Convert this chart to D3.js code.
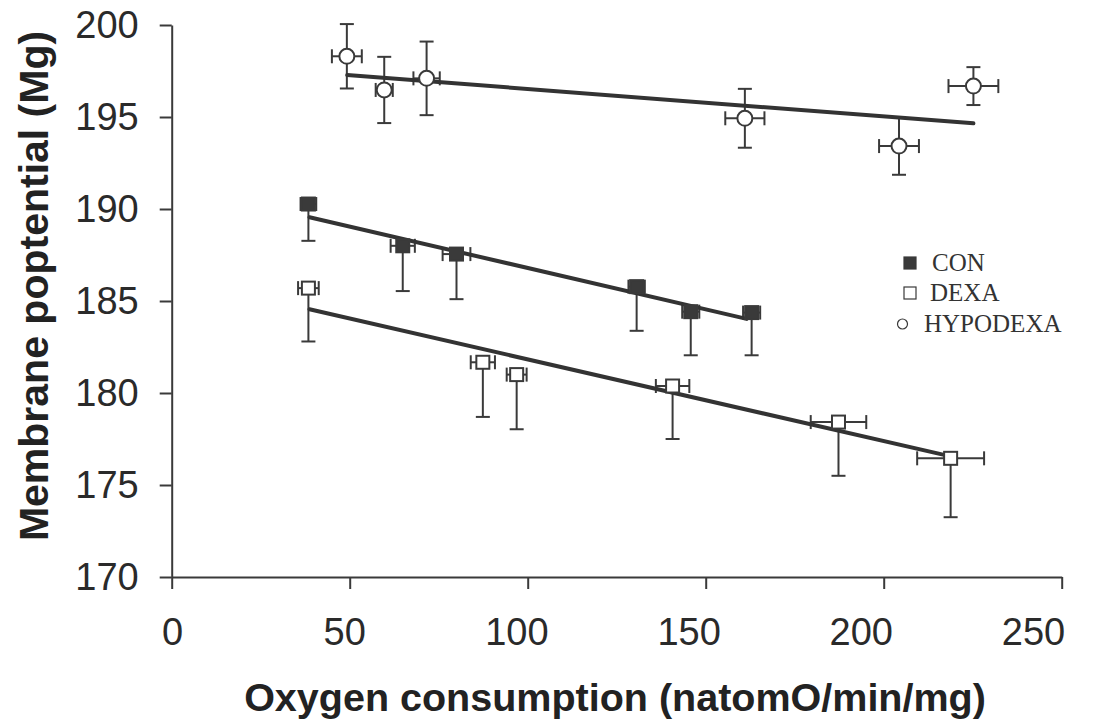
<!DOCTYPE html>
<html>
<head>
<meta charset="utf-8">
<script src="https://cdn.jsdelivr.net/npm/d3@7"></script>
<style>
  body { margin: 0; background: #fff; }
  svg { display: block; }
</style>
</head>
<body>
<div id="chart"></div>
<script>
// values
let xTicks = [0, 50, 100, 150, 200, 250];
let yTicks = [170, 175, 180, 185, 190, 195, 200];

let conX = [38.4, 64.9, 80.0, 130.6, 145.8, 162.9];
let conY = [190.27, 188.0, 187.55, 185.78, 184.42, 184.37];
let conXErr = [2.2, 3.4, 3.9, 2.3, 2.4, 2.4];
let conYErr = [2.0, 2.46, 2.45, 2.4, 2.37, 2.32];
let conTrend = [[38.7, 189.55], [161.5, 184.03]];

let dexaX = [38.4, 87.4, 96.9, 140.7, 187.3, 218.8];
let dexaY = [185.7, 181.67, 181.0, 180.38, 178.42, 176.45];
let dexaXErr = [2.9, 3.4, 2.8, 4.7, 7.8, 9.4];
let dexaYErr = [2.9, 2.97, 2.97, 2.88, 2.92, 3.2];
let dexaTrend = [[38.7, 184.55], [219.1, 176.54]];

let hypoX = [49.2, 59.7, 71.6, 161.0, 204.3, 225.2];
let hypoY = [198.3, 196.47, 197.1, 194.93, 193.42, 196.68];
let hypoXErr = [4.2, 2.4, 3.7, 5.5, 5.6, 7.0];
let hypoYErr = [1.75, 1.8, 2.0, 1.6, 1.56, 1.03];
let hypoTrend = [[49.3, 197.28], [225.2, 194.66]];

let legendNames = ['CON', 'DEXA', 'HYPODEXA'];

const W = 1106, H = 725;
const ink = '#3a3a3a';

var svg = d3.select('#chart')
    .append('svg')
    .attr('width', W)
    .attr('height', H);

let x = d3.scaleLinear().domain([0, 250]).range([171.7, 1061.7]);
let y = d3.scaleLinear().domain([170, 200]).range([577, 25]);
// the tick labels in the source sit slightly off their ticks
let xLabel = d3.scaleLinear().domain([0, 250]).range([172, 1033]);

// axes
let xAxis = svg.append('g')
    .attr('transform', 'translate(0,' + y(170) + ')')
    .call(d3.axisBottom(x).tickValues(xTicks).tickSize(12).tickPadding(29).tickSizeOuter(0));
xAxis.selectAll('text').attr('dx', function (d) { return xLabel(d) - x(d); });

let yAxis = svg.append('g')
    .attr('transform', 'translate(' + x(0) + ',0)')
    .call(d3.axisLeft(y).tickValues(yTicks).tickSize(12).tickPadding(21).tickSizeOuter(0));

svg.selectAll('.domain, .tick line')
    .attr('stroke', ink)
    .attr('stroke-width', 2);
svg.selectAll('.tick text')
    .attr('fill', '#2a2a2a')
    .style('font-family', 'Liberation Sans, Arial, sans-serif')
    .style('font-size', '38px');

// axis titles
svg.append('text')
    .attr('x', 615)
    .attr('y', 711)
    .attr('text-anchor', 'middle')
    .attr('fill', '#222')
    .style('font-family', 'Liberation Sans, Arial, sans-serif')
    .style('font-size', '39.5px')
    .style('font-weight', 'bold')
    .text('Oxygen consumption (natomO/min/mg)');

svg.append('text')
    .attr('transform', 'translate(48,286) rotate(-90)')
    .attr('text-anchor', 'middle')
    .attr('fill', '#222')
    .style('font-family', 'Liberation Sans, Arial, sans-serif')
    .style('font-size', '41px')
    .style('font-weight', 'bold')
    .text('Membrane poptential (Mg)');

function rows(xs, ys, xe, ye) {
    return xs.map(function (v, i) {
        return { x: v, y: ys[i], xe: xe[i], ye: ye[i] };
    });
}

let series = [
    { name: 'CON', shape: 'filled', data: rows(conX, conY, conXErr, conYErr), trend: conTrend, both: false },
    { name: 'DEXA', shape: 'open', data: rows(dexaX, dexaY, dexaXErr, dexaYErr), trend: dexaTrend, both: false },
    { name: 'HYPODEXA', shape: 'circle', data: rows(hypoX, hypoY, hypoXErr, hypoYErr), trend: hypoTrend, both: true }
];

let errLayer = svg.append('g').attr('stroke', ink).attr('stroke-width', 2);
let trendLayer = svg.append('g');
let markLayer = svg.append('g');

const cap = 7;

series.forEach(function (s) {
    s.data.forEach(function (d) {
        let cx = x(d.x), cy = y(d.y);
        let top = s.both ? y(d.y + d.ye) : cy;
        let bot = y(d.y - d.ye);
        // vertical bar
        errLayer.append('line').attr('x1', cx).attr('x2', cx).attr('y1', top).attr('y2', bot);
        errLayer.append('line').attr('x1', cx - cap).attr('x2', cx + cap).attr('y1', bot).attr('y2', bot);
        if (s.both) {
            errLayer.append('line').attr('x1', cx - cap).attr('x2', cx + cap).attr('y1', top).attr('y2', top);
        }
        // horizontal bar
        let l = x(d.x - d.xe), r = x(d.x + d.xe);
        errLayer.append('line').attr('x1', l).attr('x2', r).attr('y1', cy).attr('y2', cy);
        errLayer.append('line').attr('x1', l).attr('x2', l).attr('y1', cy - cap).attr('y2', cy + cap);
        errLayer.append('line').attr('x1', r).attr('x2', r).attr('y1', cy - cap).attr('y2', cy + cap);
    });

    trendLayer.append('line')
        .attr('x1', x(s.trend[0][0])).attr('y1', y(s.trend[0][1]))
        .attr('x2', x(s.trend[1][0])).attr('y2', y(s.trend[1][1]))
        .attr('stroke', '#333')
        .attr('stroke-width', 4)
        .attr('stroke-linecap', 'round');

    drawMarks(markLayer, s.shape, s.data.map(function (d) { return [x(d.x), y(d.y)]; }), 1);
});

function drawMarks(g, shape, pts, scale) {
    pts.forEach(function (p) {
        if (shape == 'circle') {
            g.append('circle')
                .attr('cx', p[0]).attr('cy', p[1])
                .attr('r', 7.5 * scale)
                .attr('fill', '#fff')
                .attr('stroke', ink)
                .attr('stroke-width', 2);
        } else {
            let s = 13 * scale;
            g.append('rect')
                .attr('x', p[0] - s / 2).attr('y', p[1] - s / 2)
                .attr('width', s).attr('height', s)
                .attr('fill', shape == 'filled' ? ink : '#fff')
                .attr('stroke', ink)
                .attr('stroke-width', 2);
        }
    });
}

// legend
let legendShapes = ['filled', 'open', 'circle'];
let legendMarkX = [910, 910, 902.5];
let legendTextX = [932, 930, 924];
let legendRowY = [263, 293, 324];

let legend = svg.append('g');
legendNames.forEach(function (name, i) {
    let g = legend.append('g');
    if (legendShapes[i] == 'circle') {
        g.append('circle')
            .attr('cx', legendMarkX[i]).attr('cy', legendRowY[i])
            .attr('r', 5)
            .attr('fill', '#fff')
            .attr('stroke', ink)
            .attr('stroke-width', 1.2);
    } else {
        g.append('rect')
            .attr('x', legendMarkX[i] - 6).attr('y', legendRowY[i] - 6)
            .attr('width', 12).attr('height', 12)
            .attr('fill', legendShapes[i] == 'filled' ? ink : '#fff')
            .attr('stroke', ink)
            .attr('stroke-width', 1.2);
    }
    g.append('text')
        .attr('x', legendTextX[i])
        .attr('y', legendRowY[i] + 8)
        .attr('fill', '#333')
        .style('font-family', 'Liberation Serif, Times New Roman, serif')
        .style('font-size', '25px')
        .text(name);
});
</script>
</body>
</html>
